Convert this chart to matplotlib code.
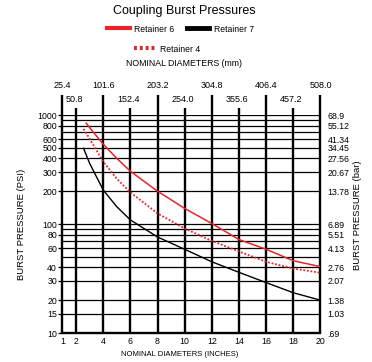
import matplotlib
matplotlib.use('Agg')
import matplotlib.pyplot as plt
from matplotlib.lines import Line2D
from matplotlib.ticker import FixedLocator, NullFormatter

plt.rcParams['font.family'] = ['Liberation Sans', 'DejaVu Sans']

# burst pressure curves (psi) against nominal diameter (in)
sizes_r6 = [2.75, 3, 4, 5, 6, 8, 10, 12, 14, 16, 18, 20]
psi_r6 = [840, 765, 540, 400, 305, 200, 139, 101, 72, 58.6, 46, 40.6]
sizes_r4 = [2.55, 3, 4, 5, 6, 8, 10, 12, 14, 16, 18, 20]
psi_r4 = [745, 605, 373, 260, 195, 125, 91, 70, 56, 45, 39, 35.7]
sizes_r7 = [2.55, 3, 4, 5, 6, 8, 10, 12, 14, 16, 18, 20]
psi_r7 = [495, 360, 205, 144, 109, 76, 58.6, 45, 36, 29, 23.4, 20]

inch_ticks = [1, 2, 4, 6, 8, 10, 12, 14, 16, 18, 20]
mm_labels = ['25.4', '50.8', '101.6', '152.4', '203.2', '254.0',
             '304.8', '355.6', '406.4', '457.2', '508.0']
psi_ticks = [10, 15, 20, 30, 40, 60, 80, 100, 200, 300, 400, 500, 600, 800, 1000]
bar_labels = ['.69', '1.03', '1.38', '2.07', '2.76', '4.13', '5.51', '6.89',
              '13.78', '20.67', '27.56', '34.45', '41.34', '55.12', '68.9']
psi_grid = [10, 15, 20, 30, 40, 50, 60, 70, 80, 90, 100, 200, 300, 400,
            500, 600, 700, 800, 900, 1000]

fig = plt.figure(figsize=(3.72, 3.62), dpi=100)
ax = fig.add_axes([0.168, 0.0801, 0.6935, 0.6022])
ax.set_xlim(1, 20)
ax.set_yscale('log')
ax.set_ylim(10, 1000)

# grid: thin horizontals, heavy verticals poking up to the mm labels
for p in psi_grid:
    ax.axhline(p, color='black', lw=0.9, zorder=1)
xt = ax.get_xaxis_transform()
for x, lab in zip(inch_ticks, mm_labels):
    upper = x == 1 or x % 4 == 0
    top = 1.092 if upper else 1.032
    ax.plot([x, x], [0, top], transform=xt, color='black', lw=1.7,
            clip_on=False, zorder=2, solid_capstyle='butt')
    # metric sizes staggered over the top
    ax.text(x if upper else x - 0.15, 1.135 if upper else 1.072, lab,
            transform=xt, ha='center', va='center', fontsize=6.5)

ax.plot(sizes_r6, psi_r6, color='#e8242b', lw=1.1, zorder=3)
ax.plot(sizes_r4, psi_r4, color='#e8242b', lw=1.3, ls=(0, (1, 1)), zorder=3)
ax.plot(sizes_r7, psi_r7, color='black', lw=1.0, zorder=3)

for s in ax.spines.values():
    s.set_visible(False)
ax.spines['bottom'].set_visible(True)
ax.spines['bottom'].set_linewidth(1.7)

ax.set_xticks(inch_ticks)
ax.set_xticklabels([str(v) for v in inch_ticks], fontsize=6.3)
ax.tick_params(axis='x', length=0, pad=3)
ax.yaxis.set_major_locator(FixedLocator(psi_ticks))
ax.yaxis.set_minor_locator(FixedLocator([]))
ax.set_yticklabels([str(v) for v in psi_ticks], fontsize=6.3)
ax.yaxis.set_minor_formatter(NullFormatter())
ax.tick_params(axis='y', length=3, width=0.9, pad=1)

# bar equivalents on the right
ax2 = ax.twinx()
ax2.set_yscale('log')
ax2.set_ylim(10, 1000)
ax2.yaxis.set_major_locator(FixedLocator(psi_ticks))
ax2.yaxis.set_minor_locator(FixedLocator([]))
ax2.set_yticklabels(bar_labels, fontsize=6.3)
ax2.yaxis.set_minor_formatter(NullFormatter())
ax2.tick_params(axis='y', length=0, pad=5)
for s in ax2.spines.values():
    s.set_visible(False)

fig.text(22 / 372, 1 - 224 / 362, 'BURST PRESSURE (PSI)', rotation=90,
         ha='center', va='center', fontsize=6.8)
fig.text(358 / 372, 1 - 215 / 362, 'BURST PRESSURE (bar)', rotation=90,
         ha='center', va='center', fontsize=6.8)
fig.text(180 / 372, 1 - 355 / 362, 'NOMINAL DIAMETERS (INCHES)',
         ha='center', va='center', fontsize=5.5)
fig.text(184 / 372, 1 - 63 / 362, 'NOMINAL DIAMETERS (mm)',
         ha='center', va='center', fontsize=6.3)
fig.text(184 / 372, 1 - 11 / 362, 'Coupling Burst Pressures',
         ha='center', va='center', fontsize=9)

h6 = Line2D([], [], color='#e8242b', lw=3, label='Retainer 6')
h7 = Line2D([], [], color='black', lw=3.5, label='Retainer 7')
h4 = Line2D([], [], color='#e8242b', lw=3, ls=(0, (0.7, 0.7)), label='Retainer 4')
fig.legend(handles=[h6, h7], loc='center', bbox_to_anchor=(180.5 / 372, 1 - 29 / 362),
           ncol=2, frameon=False, fontsize=6.2, handlelength=2.6,
           handletextpad=0.5, columnspacing=1.5, borderpad=0, borderaxespad=0)
fig.legend(handles=[h4], loc='center', bbox_to_anchor=(167.5 / 372, 1 - 49 / 362),
           frameon=False, fontsize=6.2, handlelength=2.6,
           handletextpad=0.4, borderpad=0, borderaxespad=0)

fig.savefig('out.png', dpi=100)
